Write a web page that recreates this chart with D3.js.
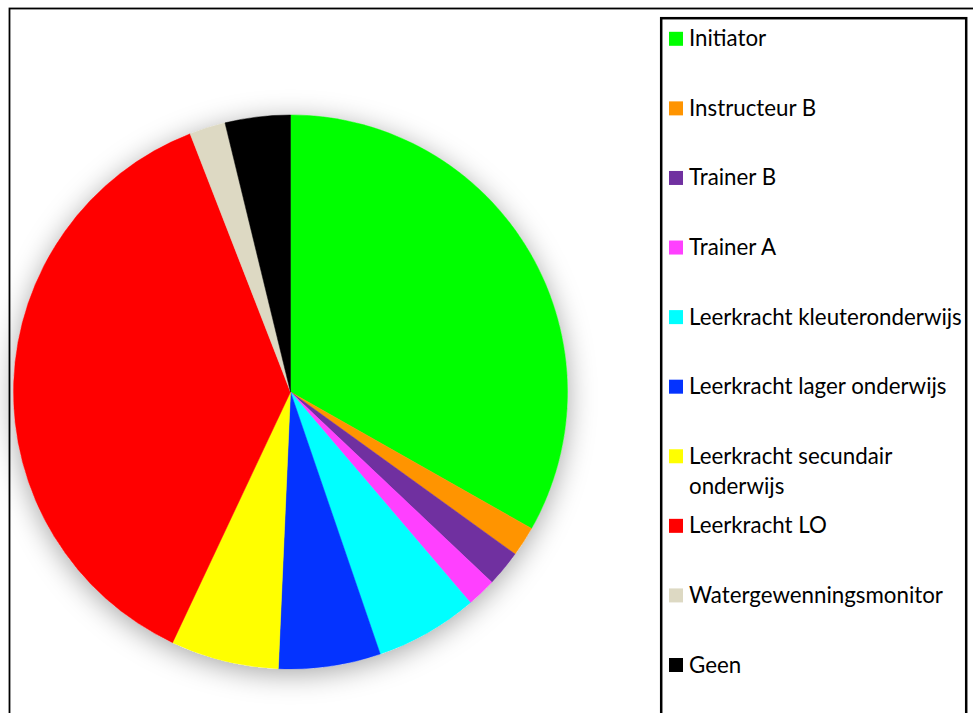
<!DOCTYPE html>
<html>
<head>
<meta charset="utf-8">
<script src="https://cdn.jsdelivr.net/npm/d3@7"></script>
<style>
  html, body { margin: 0; padding: 0; background: #fff; }
  svg { display: block; }
</style>
</head>
<body>
<div id="chart"></div>
<script>
// categories and shares (percent)
const categories = ['Initiator', 'Instructeur B', 'Trainer B', 'Trainer A',
  'Leerkracht kleuteronderwijs', 'Leerkracht lager onderwijs',
  'Leerkracht secundair onderwijs', 'Leerkracht LO',
  'Watergewenningsmonitor', 'Geen'];
const shares = [33.2, 1.75, 2.1, 1.7, 6.0, 5.95, 6.3, 37.1, 2.1, 3.8];
const colors = ['#00ff00', '#ff9400', '#7030a0', '#ff40ff', '#00ffff',
  '#0433ff', '#ffff00', '#ff0000', '#ddd9c3', '#000000'];
// legend labels split into lines
const legendLines = [['Initiator'], ['Instructeur B'], ['Trainer B'], ['Trainer A'],
  ['Leerkracht kleuteronderwijs'], ['Leerkracht lager onderwijs'],
  ['Leerkracht secundair', 'onderwijs'], ['Leerkracht LO'],
  ['Watergewenningsmonitor'], ['Geen']];

const width = 973, height = 713;
const cx = 290.5, cy = 392, radius = 277;

const svg = d3.select('#chart').append('svg')
  .attr('width', width)
  .attr('height', height);

const defs = svg.append('defs');
const shadow = defs.append('filter')
  .attr('id', 'shadow')
  .attr('x', '-30%').attr('y', '-30%')
  .attr('width', '160%').attr('height', '160%');
shadow.append('feDropShadow')
  .attr('dx', 0).attr('dy', 5)
  .attr('stdDeviation', 14)
  .attr('flood-color', '#000')
  .attr('flood-opacity', 0.35);

// outer chart frame (runs past the right and bottom edges)
svg.append('rect')
  .attr('x', 9.5).attr('y', 8.5)
  .attr('width', 1000).attr('height', 1000)
  .attr('fill', '#fff')
  .attr('stroke', '#000')
  .attr('stroke-width', 1.8);

const data = categories.map((name, i) => ({ name: name, value: shares[i], color: colors[i] }));

const pie = d3.pie().value(d => d.value).sort(null);
const arc = d3.arc().innerRadius(0).outerRadius(radius);

const pieGroup = svg.append('g')
  .attr('transform', `translate(${cx},${cy})`);

pieGroup.append('circle')
  .attr('r', radius)
  .attr('fill', '#fff')
  .attr('filter', 'url(#shadow)');

pieGroup.selectAll('path')
  .data(pie(data))
  .enter().append('path')
  .attr('d', arc)
  .attr('fill', d => d.data.color)
  .attr('stroke', d => d.data.color)
  .attr('stroke-width', 0.5);

// legend
svg.append('rect')
  .attr('x', 661.2).attr('y', 18.2)
  .attr('width', 305).attr('height', 800)
  .attr('fill', '#fff')
  .attr('stroke', '#000')
  .attr('stroke-width', 2.5);

const y = d3.scalePoint()
  .domain(categories)
  .range([38.8, 665]);

const legend = svg.append('g')
  .attr('font-family', 'Lato, "Open Sans", sans-serif')
  .attr('font-size', 22.3)
  .attr('fill', '#000')
  .selectAll('g')
  .data(data)
  .enter().append('g')
  .attr('transform', d => `translate(0,${y(d.name)})`);

legend.append('rect')
  .attr('x', 669).attr('y', -7)
  .attr('width', 14).attr('height', 14)
  .attr('fill', d => d.color);

legend.append('text')
  .attr('x', 689)
  .attr('y', 7.5)
  .selectAll('tspan')
  .data((d, i) => legendLines[i])
  .enter().append('tspan')
  .attr('x', 689)
  .attr('dy', (d, i) => i === 0 ? 0 : 30)
  .text(d => d);
</script>
</body>
</html>
